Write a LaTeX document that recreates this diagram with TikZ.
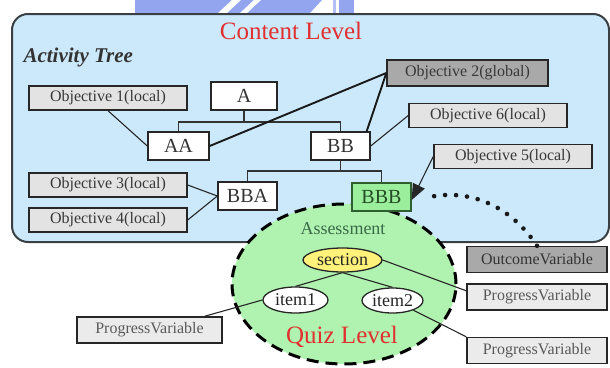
\documentclass[tikz,border=0pt]{standalone}
\usepackage{fontspec}
\setmainfont{Liberation Serif}
\usetikzlibrary{shapes.geometric,arrows.meta,calc}

\definecolor{panelblue}{HTML}{CCE9FB}
\definecolor{panelline}{HTML}{3A3F44}
\definecolor{objlight}{HTML}{E3E3E3}
\definecolor{objdark}{HTML}{A9A9A9}
\definecolor{varlight}{HTML}{EBEBEB}
\definecolor{quizgreen}{HTML}{B0F3B0}
\definecolor{leafgreen}{HTML}{9BEE9B}
\definecolor{leafline}{HTML}{2F5F2F}
\definecolor{secyellow}{HTML}{FFF27A}
\definecolor{levelred}{HTML}{E03030}
\definecolor{assessgreen}{HTML}{3A6A48}
\definecolor{markblue}{HTML}{93A5EE}

\tikzset{
  objbox/.style={draw=black!85, line width=1.4pt, fill=objlight, text=black!78,
    font=\fontsize{16}{18}\selectfont, minimum width=158pt, minimum height=24pt,
    inner sep=0pt},
  objglobal/.style={objbox, fill=objdark, minimum width=161pt, minimum height=26pt},
  treebox/.style={draw=black!85, line width=1.4pt, fill=white, text=black!80,
    font=\fontsize{20}{22}\selectfont, minimum height=28pt, inner sep=0pt},
  leafbox/.style={treebox, fill=leafgreen, draw=leafline, text=leafline!80!black},
  varbox/.style={draw=black!85, line width=1.4pt, fill=varlight, text=black!65,
    font=\fontsize{16}{18}\selectfont, minimum width=140pt, minimum height=26pt,
    inner sep=0pt},
  outbox/.style={varbox, fill=objdark, text=black!80},
  oval/.style={ellipse, draw=black!85, line width=1.3pt, fill=white, inner sep=0pt,
    font=\fontsize{18}{20}\selectfont, text=black!85},
  link/.style={line width=1.1pt, draw=black!85},
  boldlink/.style={line width=1.9pt, draw=black!90},
  treeline/.style={line width=1.1pt, draw=black!80},
  leveltext/.style={text=levelred, font=\fontsize{25}{28}\selectfont},
  dotted path/.style={line width=4.6pt, line cap=round, dash pattern=on 0pt off 11pt,
    draw=black!90},
}

\begin{document}
\begin{tikzpicture}[x=1pt,y=-1pt]
\useasboundingbox (0,0) rectangle (610,367);

% faint logo band at the top edge
\fill[markblue] (135,0) -- (322,0) -- (310,13) -- (135,13) -- cycle;
\fill[white] (218,13) -- (227,13) -- (241,0) -- (232,0) -- cycle;
\fill[white] (240,13) -- (247,13) -- (261,0) -- (254,0) -- cycle;
\fill[markblue!70] (333,0) rectangle (336,13);
\fill[markblue] (339,0) rectangle (354,13);

% content level panel
\draw[panelline, line width=2pt, fill=panelblue, rounded corners=16pt]
  (12,14) rectangle (609,242);

% quiz level region
\node[ellipse, draw=black, line width=3pt, dash pattern=on 12pt off 7pt,
  fill=quizgreen, minimum width=224pt, minimum height=160pt, inner sep=0pt]
  (quiz) at (344,284) {};

\node[leveltext] (contentlbl) at (291,31) {Content Level};
\node[font=\fontsize{21}{24}\selectfont\bfseries\itshape, text=black!80,
  anchor=west] (acttree) at (20,57) {Activity Tree};

% activity tree
\node[treebox, minimum width=66pt] (A)   at (244,96)    {A};
\node[treebox, minimum width=61pt] (AA)  at (178.5,146) {AA};
\node[treebox, minimum width=59pt] (BB)  at (340.5,146) {BB};
\node[treebox, minimum width=59pt] (BBA) at (247.5,196) {BBA};
\node[leafbox, minimum width=59pt] (BBB) at (381.5,197) {BBB};

\coordinate (Afork)  at (244,122);
\coordinate (BBfork) at (340.5,171);
\draw[treeline] (A.south) -- (Afork);
\draw[treeline] (AA.north) |- (Afork) -| (BB.north);
\draw[treeline] (BB.south) -- (BBfork);
\draw[treeline] (BBA.north) |- (BBfork) -| (BBB.north);

% objectives
\node[objbox]    (obj1) at (108,98)    {Objective 1(local)};
\node[objglobal] (obj2) at (467.5,73)  {Objective 2(global)};
\node[objbox]    (obj6) at (488,115.5) {Objective 6(local)};
\node[objbox]    (obj5) at (513,156.5) {Objective 5(local)};
\node[objbox]    (obj3) at (108,185)   {Objective 3(local)};
\node[objbox]    (obj4) at (108,220)   {Objective 4(local)};

\draw[link] (obj1.south) -- (AA.west);
\draw[boldlink] (AA.east) -- (obj2.west);
\draw[boldlink] ([xshift=-4pt]BB.north east) -- (obj2.west);
\draw[link] (BB.east) -- (obj6.west);
\draw[link] (obj3.east) -- (BBA.west);
\draw[link] (obj4.east) -- (BBA.west);
\draw[link, -{Triangle[length=16pt, width=13pt]}] (obj5.west) -- ([yshift=-3pt]BBB.east);

% quiz level content
\node[text=assessgreen, font=\fontsize{18}{20}\selectfont] (assess) at (343,229) {Assessment};
\node[oval, fill=secyellow, minimum width=79pt, minimum height=24pt] (section) at (342.5,260) {section};
\node[oval, minimum width=65pt, minimum height=26pt] (item1) at (295.5,300) {item1};
\node[oval, minimum width=61pt, minimum height=25pt] (item2) at (392.5,300.5) {item2};
\node[leveltext] (quizlbl) at (342,337) {Quiz Level};

\draw[link] (section.south) -- (item1.north);
\draw[link] (section.south) -- (item2.north);

% tracking variables
\node[outbox] (outvar) at (537,259.5) {OutcomeVariable};
\node[varbox] (pvsec)  at (537,297)   {ProgressVariable};
\node[varbox] (pvitem2) at (537,350.5) {ProgressVariable};
\node[varbox, minimum width=145pt] (pvitem1) at (149.5,330) {ProgressVariable};

\draw[link] (section.east) -- (pvsec.175);
\draw[link] (item2.-25) -- (pvitem2.north west);
\draw[link] (item1.west) -- (pvitem1.14);

% outcome fed back to the leaf activity
\draw[dotted path, shorten >=22pt] (outvar.north)
  .. controls (510,205) and (470,190) .. ([yshift=-3pt]BBB.east);
\end{tikzpicture}
\end{document}
